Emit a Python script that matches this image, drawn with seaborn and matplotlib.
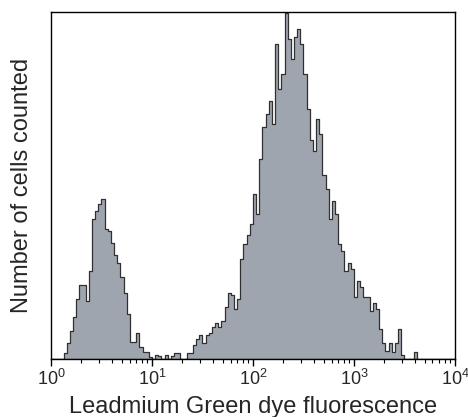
import numpy as np
import pandas as pd
import seaborn as sb
import matplotlib.pyplot as plt
from matplotlib.ticker import LogLocator, NullLocator

# channel counts, 32 channels per decade from 10^0 to 10^4
counts = [
    0, 0, 0, 0, 6, 16, 28, 42, 60, 74,
    74, 58, 88, 140, 148, 155, 160, 130, 128, 116,
    104, 96, 82, 66, 45, 17, 17, 26, 12, 7,
    7, 2, 0, 4, 3, 0, 4, 0, 3, 6,
    6, 0, 0, 6, 6, 14, 20, 24, 16, 24,
    26, 32, 36, 32, 38, 52, 66, 64, 50, 60,
    100, 115, 124, 135, 165, 145, 200, 232, 245, 258,
    235, 315, 270, 285, 346, 320, 300, 322, 330, 315,
    285, 250, 219, 208, 240, 225, 184, 170, 140, 158,
    145, 115, 108, 88, 96, 90, 62, 78, 72, 62,
    62, 48, 56, 50, 30, 16, 8, 16, 7, 16,
    30, 4, 0, 0, 0, 7, 0, 0, 0, 0,
    0, 0, 0, 0, 0, 0, 0, 0,
]
n_channels = len(counts)
decades = (0, 4)
tick_labels = ["$10^{0}$", "$10^{1}$", "$10^{2}$", "$10^{3}$", "$10^{4}$"]

log_edges = np.linspace(decades[0], decades[1], n_channels + 1)
df = pd.DataFrame({
    "fluorescence": 10 ** ((log_edges[:-1] + log_edges[1:]) / 2),
    "cells": counts,
})

sb.set_style("ticks")
plt.rcParams["font.family"] = ["Liberation Sans", "DejaVu Sans"]
plt.rcParams["mathtext.fontset"] = "custom"
plt.rcParams["mathtext.rm"] = "Liberation Sans"

fig = plt.figure(figsize=(4.68, 4.17), dpi=100)
ax = fig.add_axes([0.109, 0.139, 0.863, 0.832])

sb.histplot(
    data=df,
    x="fluorescence",
    weights="cells",
    bins=n_channels,
    binrange=decades,
    log_scale=True,
    element="step",
    fill=True,
    color="#9fa5af",
    edgecolor="#303030",
    linewidth=0.9,
    alpha=1,
    ax=ax,
)

ax.set_xlim(10 ** decades[0], 10 ** decades[1])
ax.set_ylim(0, max(counts) + 1)
ax.set_xticks([10 ** d for d in range(decades[0], decades[1] + 1)])
ax.set_xticklabels(tick_labels)
ax.xaxis.set_minor_locator(LogLocator(base=10, subs=np.arange(2, 10)))
ax.yaxis.set_major_locator(NullLocator())
ax.tick_params(axis="x", which="major", direction="out", length=5, width=1,
               color="black", labelsize=13, pad=2)
ax.tick_params(axis="x", which="minor", direction="out", length=3, width=0.8,
               color="black")
for side in ["left", "right", "top", "bottom"]:
    ax.spines[side].set_visible(True)
    ax.spines[side].set_color("black")
    ax.spines[side].set_linewidth(1.0)

ax.set_xlabel("Leadmium Green dye fluorescence", fontsize=17, labelpad=5)
ax.set_ylabel("Number of cells counted", fontsize=17, labelpad=13)

plt.savefig("out.png", dpi=100)
